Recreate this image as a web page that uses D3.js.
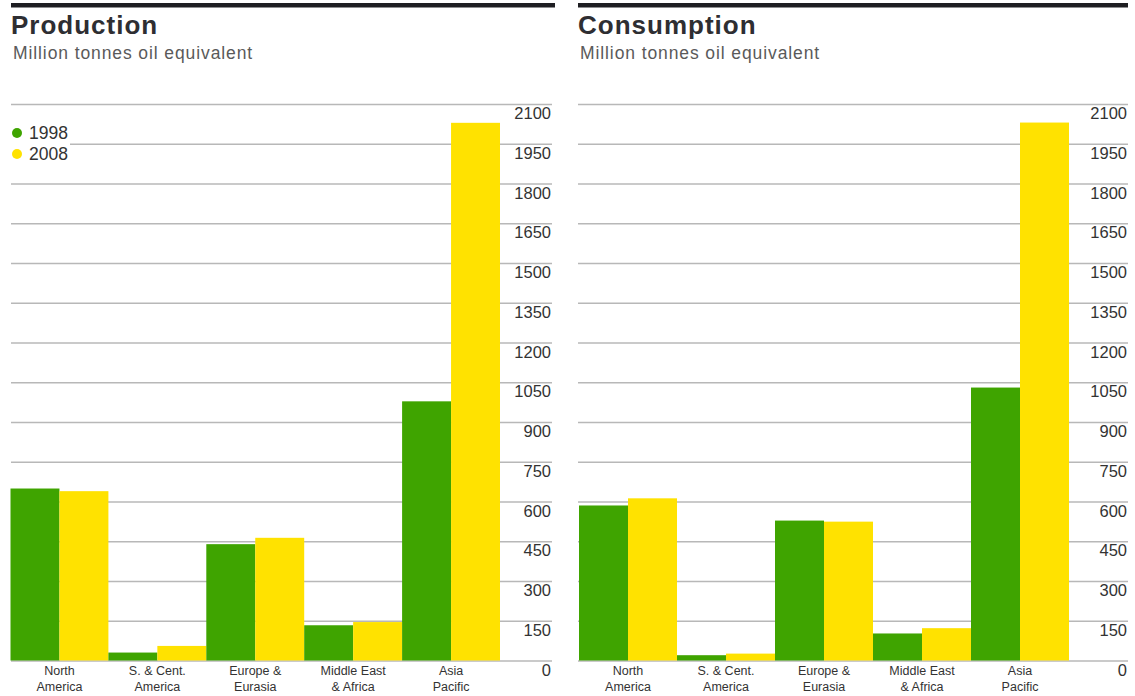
<!DOCTYPE html>
<html>
<head>
<meta charset="utf-8">
<script src="https://cdn.jsdelivr.net/npm/d3@7"></script>
<style>
  html, body { margin: 0; padding: 0; background: #fff; }
  svg { display: block; }
</style>
</head>
<body>
<svg id="chart" width="1135" height="696"></svg>
<script>
// ---- data ----
const categories = ["North America", "S. & Cent. America", "Europe & Eurasia", "Middle East & Africa", "Asia Pacific"];
const categoryLines = [["North", "America"], ["S. & Cent.", "America"], ["Europe &", "Eurasia"], ["Middle East", "& Africa"], ["Asia", "Pacific"]];
const seriesNames = ["1998", "2008"];
const production1998 = [649, 30, 439, 133, 978];
const production2008 = [639, 55, 463, 145, 2029];
const consumption1998 = [585, 20, 528, 102, 1030];
const consumption2008 = [612, 26, 524, 122, 2030];
const tickValues = [0, 150, 300, 450, 600, 750, 900, 1050, 1200, 1350, 1500, 1650, 1800, 1950, 2100];
const colors = ["#3fa400", "#ffe200"];

const svg = d3.select("#chart");
const font = "'Liberation Sans', Arial, Helvetica, sans-serif";

function panel(opts) {
  const g = svg.append("g");
  const y = d3.scaleLinear().domain([0, 2100]).range([660.5, 104]);
  const x = d3.scaleBand().domain(categories).range([opts.barX0, opts.barX1]).padding(0);
  const xs = d3.scaleBand().domain(seriesNames).range([0, x.bandwidth()]).padding(0);

  // top rule
  g.append("rect").attr("x", opts.left).attr("y", 3).attr("width", opts.ruleRight - opts.left).attr("height", 4.5).attr("fill", "#1e1e22");
  // title
  g.append("text").attr("x", opts.left).attr("y", 34).text(opts.title)
    .attr("font-family", font).attr("font-weight", "bold").attr("font-size", 26).attr("fill", "#2e2e32").attr("letter-spacing", 1);
  g.append("text").attr("x", opts.left + 2).attr("y", 59).text("Million tonnes oil equivalent")
    .attr("font-family", font).attr("font-size", 17.5).attr("fill", "#5a5a5a").attr("letter-spacing", 0.9);

  // gridlines via axis
  const axis = d3.axisRight(y).tickValues(tickValues).tickSize(opts.gridRight - opts.left).tickFormat(d => d);
  const ag = g.append("g").attr("transform", `translate(${opts.left},0)`).call(axis);
  ag.select(".domain").remove();
  ag.selectAll(".tick line").attr("stroke", "#b8b8b8").attr("stroke-width", 1.5);
  ag.selectAll(".tick text")
    .attr("x", opts.gridRight - opts.left - 1).attr("dy", 14.5).attr("text-anchor", "end")
    .attr("font-family", font).attr("font-size", 16.5).attr("fill", "#333");

  // bars
  const data = categories.map((c, i) => ({ c, vals: [opts.a[i], opts.b[i]] }));
  const cg = g.selectAll(".cat").data(data).join("g").attr("transform", d => `translate(${x(d.c)},0)`);
  cg.selectAll("rect").data(d => d.vals.map((v, j) => ({ s: seriesNames[j], v, j }))).join("rect")
    .attr("x", d => xs(d.s)).attr("width", xs.bandwidth())
    .attr("y", d => y(d.v)).attr("height", d => y(0) - y(d.v))
    .attr("fill", d => colors[d.j]);

  // category labels
  const lg = g.selectAll(".lab").data(categories).join("text")
    .attr("font-family", font).attr("font-size", 12.5).attr("fill", "#333").attr("text-anchor", "middle")
    .attr("transform", d => `translate(${x(d) + x.bandwidth() / 2},675)`);
  lg.selectAll("tspan").data((d, i) => categoryLines[i]).join("tspan")
    .attr("x", 0).attr("dy", (d, i) => i === 0 ? 0 : 16).text(d => d);

  return { g, y };
}

panel({ title: "Production", left: 11, ruleRight: 555, gridRight: 552, barX0: 10.5, barX1: 500, a: production1998, b: production2008 });
panel({ title: "Consumption", left: 578, ruleRight: 1128, gridRight: 1128, barX0: 579, barX1: 1069, a: consumption1998, b: consumption2008 });

// legend (left panel)
const leg = svg.append("g");
leg.append("rect").attr("x", 0).attr("y", 120).attr("width", 70).attr("height", 44).attr("fill", "#fff");
const li = leg.selectAll(".li").data(seriesNames).join("g").attr("transform", (d, i) => `translate(0,${133 + i * 21})`);
li.append("circle").attr("cx", 17).attr("cy", 0).attr("r", 5).attr("fill", (d, i) => colors[i]);
li.append("text").attr("x", 29).attr("y", 6).text(d => d)
  .attr("font-family", font).attr("font-size", 17.5).attr("fill", "#333");
</script>
</body>
</html>
